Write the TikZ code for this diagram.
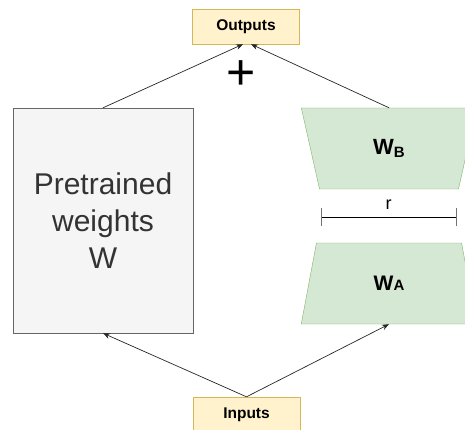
\documentclass[tikz,border=0pt]{standalone}
\usepackage{fontspec}
\setmainfont{Liberation Sans}
\usetikzlibrary{shapes.geometric,arrows.meta}

\definecolor{ioFill}{HTML}{FFF2CC}
\definecolor{ioLine}{HTML}{D6B656}
\definecolor{adFill}{HTML}{D5E8D4}
\definecolor{adLine}{HTML}{82B366}
\definecolor{ptFill}{HTML}{F5F5F5}
\definecolor{ptLine}{HTML}{666666}
\definecolor{ptText}{HTML}{333333}

\begin{document}
\begin{tikzpicture}[x=1pt,y=-1pt,
		iobox/.style={draw=ioLine,fill=ioFill,minimum width=107pt,minimum height=35pt,
			inner sep=0pt,font=\fontsize{15.5}{18}\selectfont\bfseries},
		lowrank/.style={trapezium,trapezium stretches=true,draw=adLine,fill=adFill,
			minimum width=176pt,minimum height=81pt,inner sep=0pt,
			trapezium left angle=77.5,trapezium right angle=77.5},
		link/.style={draw=black!85,line width=0.7pt,-{Stealth[length=7pt,width=5.5pt]}},
		tick/.style={draw=black!55,line width=1pt}
		]
		\useasboundingbox (0,0) rectangle (465,430);
		
		\node[iobox](Out) at (246,26.5){Outputs};
		\node[iobox](In) at (246.5,414.5){Inputs};
		\node[draw=ptLine,fill=ptFill,text=ptText,minimum width=180pt,minimum height=225pt,
		align=center,font=\fontsize{30}{37}\selectfont](W) at (103,220.5){Pretrained\\weights\\W};
		\node[lowrank,shape border rotate=180](WB) at (389,148.5)
		{\fontsize{22}{24}\selectfont\bfseries W\raisebox{-3.5pt}{\fontsize{15}{16}\selectfont B}};
		\node[lowrank](WA) at (389,283.5)
		{\fontsize{21}{24}\selectfont\bfseries W{\fontsize{15}{16}\selectfont A}};
		\node[font=\fontsize{50}{50}\selectfont,inner sep=0pt](plus) at (241,75){+};
		
		% inputs feed both branches
		\draw[link] (In.north) -- (W.south);
		\draw[link] (In.north) -- (WA.south);
		% both branches are summed
		\draw[link] (W.north) -- ([xshift=-3pt]Out.south);
		\draw[link] (WB.north) -- ([xshift=5pt]Out.south);
		
		% rank r
		\coordinate (rL) at (321,217);
		\coordinate (rR) at (456,217);
		\draw[line width=0.8pt] (rL) -- (rR) node[midway,above=7pt,inner sep=0pt,
		font=\fontsize{18}{20}\selectfont]{r};
		\draw[tick] ([yshift=9pt]rL) -- ([yshift=-9pt]rL);
		\draw[tick] ([yshift=9pt]rR) -- ([yshift=-9pt]rR);
	\end{tikzpicture}
\end{document}
